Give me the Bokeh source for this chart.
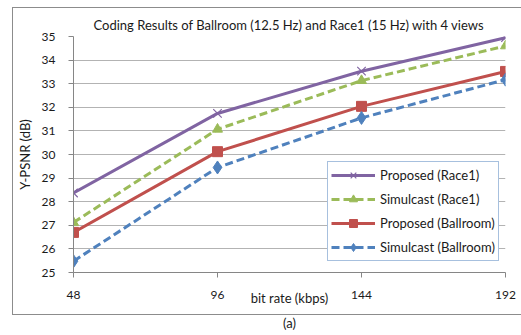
from bokeh.plotting import figure
from bokeh.models import Range1d, FixedTicker, Title
from bokeh.embed import file_html
from bokeh.resources import INLINE

# ---- data -------------------------------------------------------------
bit_rates = [48, 96, 144, 192]
proposed_race1 = [28.37, 31.74, 33.53, 34.95]
simulcast_race1 = [27.12, 31.07, 33.13, 34.60]
proposed_ballroom = [26.70, 30.12, 32.04, 33.52]
simulcast_ballroom = [25.48, 29.45, 31.55, 33.17]
series_names = ["Proposed (Race1)", "Simulcast (Race1)",
                "Proposed (Ballroom)", "Simulcast (Ballroom)"]
y_ticks = list(range(25, 36))
x_ticks = bit_rates
title_text = "Coding Results of Ballroom (12.5 Hz) and Race1 (15 Hz) with 4 views"
x_label = "bit rate (kbps)"
y_label = "Y-PSNR (dB)"
caption = "(a)"

FONT = "Lato"
FS = "13px"
TICK_FS = "12px"
TXT = "#1a1a1a"
GRAY = "#868686"

# chart-area frame lines (the grey box around the chart) drawn as host background
box_css = {
    "background-color": "white",
    "background-image": ", ".join(["linear-gradient(#8c8c8c, #8c8c8c)"] * 3),
    "background-size": "100% 1px, 1px 308px, 100% 1px",
    "background-position": "12px 7px, 12px 7px, 12px 314px",
    "background-repeat": "no-repeat",
}

p = figure(width=521, height=335, output_backend="svg", toolbar_location=None,
           x_range=Range1d(48, 192), y_range=Range1d(25, 35),
           min_border_left=73, min_border_right=16, min_border_top=36,
           min_border_bottom=62, styles=box_css)
p.outline_line_color = None
p.background_fill_color = "white"
p.border_fill_color = None

# title
p.title.text = title_text
p.title.align = "left"
p.title.offset = 20
p.title.standoff = 8
p.title.text_font = FONT
p.title.text_font_size = FS
p.title.text_font_style = "normal"
p.title.text_color = TXT

# axes
for ax in (p.xaxis[0], p.yaxis[0]):
    ax.axis_line_color = GRAY
    ax.major_tick_line_color = GRAY
    ax.minor_tick_line_color = None
    ax.major_tick_in = 0
    ax.major_tick_out = 5
    ax.major_label_text_font = FONT
    ax.major_label_text_font_size = TICK_FS
    ax.major_label_text_color = TXT
    ax.axis_label_text_font = FONT
    ax.axis_label_text_font_size = FS
    ax.axis_label_text_font_style = "normal"
    ax.axis_label_text_color = TXT
p.xaxis.ticker = FixedTicker(ticks=x_ticks)
p.yaxis.ticker = FixedTicker(ticks=y_ticks)
p.xaxis.major_label_standoff = 13
p.yaxis.major_label_standoff = 13
p.xaxis.axis_label = x_label
p.xaxis.axis_label_standoff = -12
p.yaxis.axis_label = y_label
p.yaxis.axis_label_standoff = 6

p.add_layout(Title(text=caption, align="center", offset=-9, text_font=FONT,
                   text_font_size=FS, text_font_style="normal",
                   text_color=TXT, standoff=9), "below")

p.xgrid.grid_line_color = None
p.ygrid.grid_line_color = "#b3b3b3"
p.ygrid.ticker = FixedTicker(ticks=y_ticks)

# series
styles = [
    (proposed_race1, "#8064a2", "solid", "x"),
    (simulcast_race1, "#9bbb59", "8 4", "triangle"),
    (proposed_ballroom, "#c0504d", "solid", "square"),
    (simulcast_ballroom, "#4f81bd", "8 4", "diamond"),
]
for (vals, color, dash, marker), name in zip(styles, series_names):
    p.line(bit_rates, vals, line_color=color, line_width=3, line_dash=dash,
           legend_label=name)
    if marker == "x":
        p.scatter(bit_rates, vals, marker="x", size=12, line_color=color,
                  line_width=1.2, legend_label=name)
    else:
        p.scatter(bit_rates, vals, marker=marker,
                  size=13 if marker == "diamond" else 10,
                  fill_color=color, line_color=color, legend_label=name)

leg = p.legend[0]
leg.location = (254, 11)
leg.label_text_font = FONT
leg.label_text_font_size = FS
leg.label_text_color = TXT
leg.border_line_color = "#4f81bd"
leg.border_line_width = 1
leg.background_fill_color = "white"
leg.background_fill_alpha = 1
leg.padding = 3
leg.spacing = 4
leg.margin = 0
leg.label_height = 20
leg.glyph_height = 20
leg.glyph_width = 44
leg.label_standoff = 5

open("out.html", "w").write(file_html(p, INLINE))
